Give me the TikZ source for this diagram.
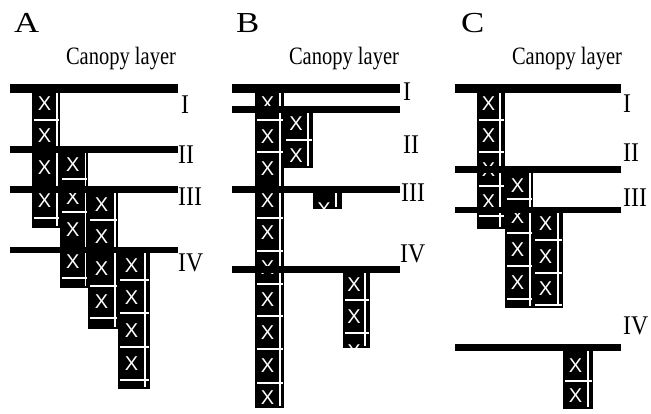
\documentclass[tikz,border=0pt]{standalone}
\usepackage{fontspec}
\setmainfont{Liberation Serif}
\newfontfamily\cellfont{Liberation Sans}
\tikzset{
  wl/.style={draw=white,line width=1.5pt},
  xmark/.style={text=white,inner sep=0pt,font=\cellfont\fontsize{20}{20}\selectfont},
  layerbar/.style={fill=black},
  roman/.style={anchor=west,inner sep=0pt,font=\fontsize{27}{27}\selectfont,xscale=0.88},
  canopy/.style={anchor=base,inner sep=0pt,font=\fontsize{25}{25}\selectfont,xscale=0.82},
  panel/.style={anchor=base west,inner sep=0pt,font=\fontsize{29}{29}\selectfont,xscale=1.2},
}
% #1 left, #2 right, #3 top, #4 bottom, #5 vertical line x, #6 line ys, #7 X ys
\newcommand\stratcol[7]{%
  \fill[black] (#1,#3) rectangle (#2,#4);
  \draw[wl] (#5,#3) -- (#5,#4-2);
  \foreach \yy in {#6} {\draw[wl] (#1+2,\yy) -- (#2-1,\yy);}
  \foreach \yy in {#7} {\node[xmark] at ({(#1+#5)/2},\yy) {X};}
}
\begin{document}
\begin{tikzpicture}[x=1pt,y=-1pt]
\useasboundingbox (0,0) rectangle (651,414);
\fill[white] (0,0) rectangle (651,414);

% ---------- Panel A ----------
\node[panel] (lA) at (14,33) {A};
\node[canopy] (cA) at (121,65) {Canopy layer};
\stratcol{32}{60}{88}{228}{57}{120,218}{104,136,168,201}
\stratcol{60}{88}{150}{288}{85.5}{179,212,278}{165,198,230,262}
\stratcol{88}{118}{190}{329}{115}{220,286,318}{205,237,269,302}
\stratcol{118}{150}{250}{389}{145}{280,313,347,380}{266,298,331,364}
\fill[layerbar] (10,84) rectangle (178,93);
\fill[layerbar] (10,146) rectangle (178,153);
\fill[layerbar] (10,186) rectangle (178,193);
\fill[layerbar] (10,247) rectangle (178,253);
\node[roman] (a1) at (181,105) {I};
\node[roman] (a2) at (178,155) {II};
\node[roman] (a3) at (178,197) {III};
\node[roman] (a4) at (178,263) {IV};

% ---------- Panel B ----------
\node[panel] (lB) at (236,33) {B};
\node[canopy] (cB) at (344,65) {Canopy layer};
\stratcol{255}{284}{86}{408}{280}{120,152,218,251,284,316,349,383}{104,137,169,201,233,268,300,333,366,398}
\stratcol{284}{313}{110}{168}{308}{140}{124,156}
\fill[black] (313,190) rectangle (342,209);
\draw[wl] (336,190) -- (336,207);
\node[xmark] (bx) at (324,210) {X};
\stratcol{343}{370}{270}{348}{365}{300,333}{285,317,352}
\fill[layerbar] (232,84) rectangle (400,93);
\fill[layerbar] (232,106) rectangle (400,113);
\fill[layerbar] (232,186) rectangle (400,193);
\fill[layerbar] (232,266) rectangle (400,273);
\node[roman] (b1) at (403,92) {I};
\node[roman] (b2) at (403,145) {II};
\node[roman] (b3) at (401,193) {III};
\node[roman] (b4) at (400,254) {IV};

% ---------- Panel C ----------
\node[panel] (lC) at (461,33) {C};
\node[canopy] (cC) at (567,65) {Canopy layer};
\stratcol{477}{505}{88}{229}{500}{120,152,186,216}{104,136,170,202}
\stratcol{505}{533}{170}{308}{530}{199,233,266,299}{186,217,250,283}
\stratcol{533}{563}{210}{308}{558}{240,273,305}{224,257,289}
\stratcol{563}{593}{347}{409}{588}{381}{366,396}
\fill[layerbar] (455,84) rectangle (621,93);
\fill[layerbar] (455,166) rectangle (621,173);
\fill[layerbar] (455,207) rectangle (621,213);
\fill[layerbar] (455,344) rectangle (621,351);
\node[roman] (c1) at (623,104) {I};
\node[roman] (c2) at (623,153) {II};
\node[roman] (c3) at (623,198) {III};
\node[roman] (c4) at (623,326) {IV};
\end{tikzpicture}
\end{document}
